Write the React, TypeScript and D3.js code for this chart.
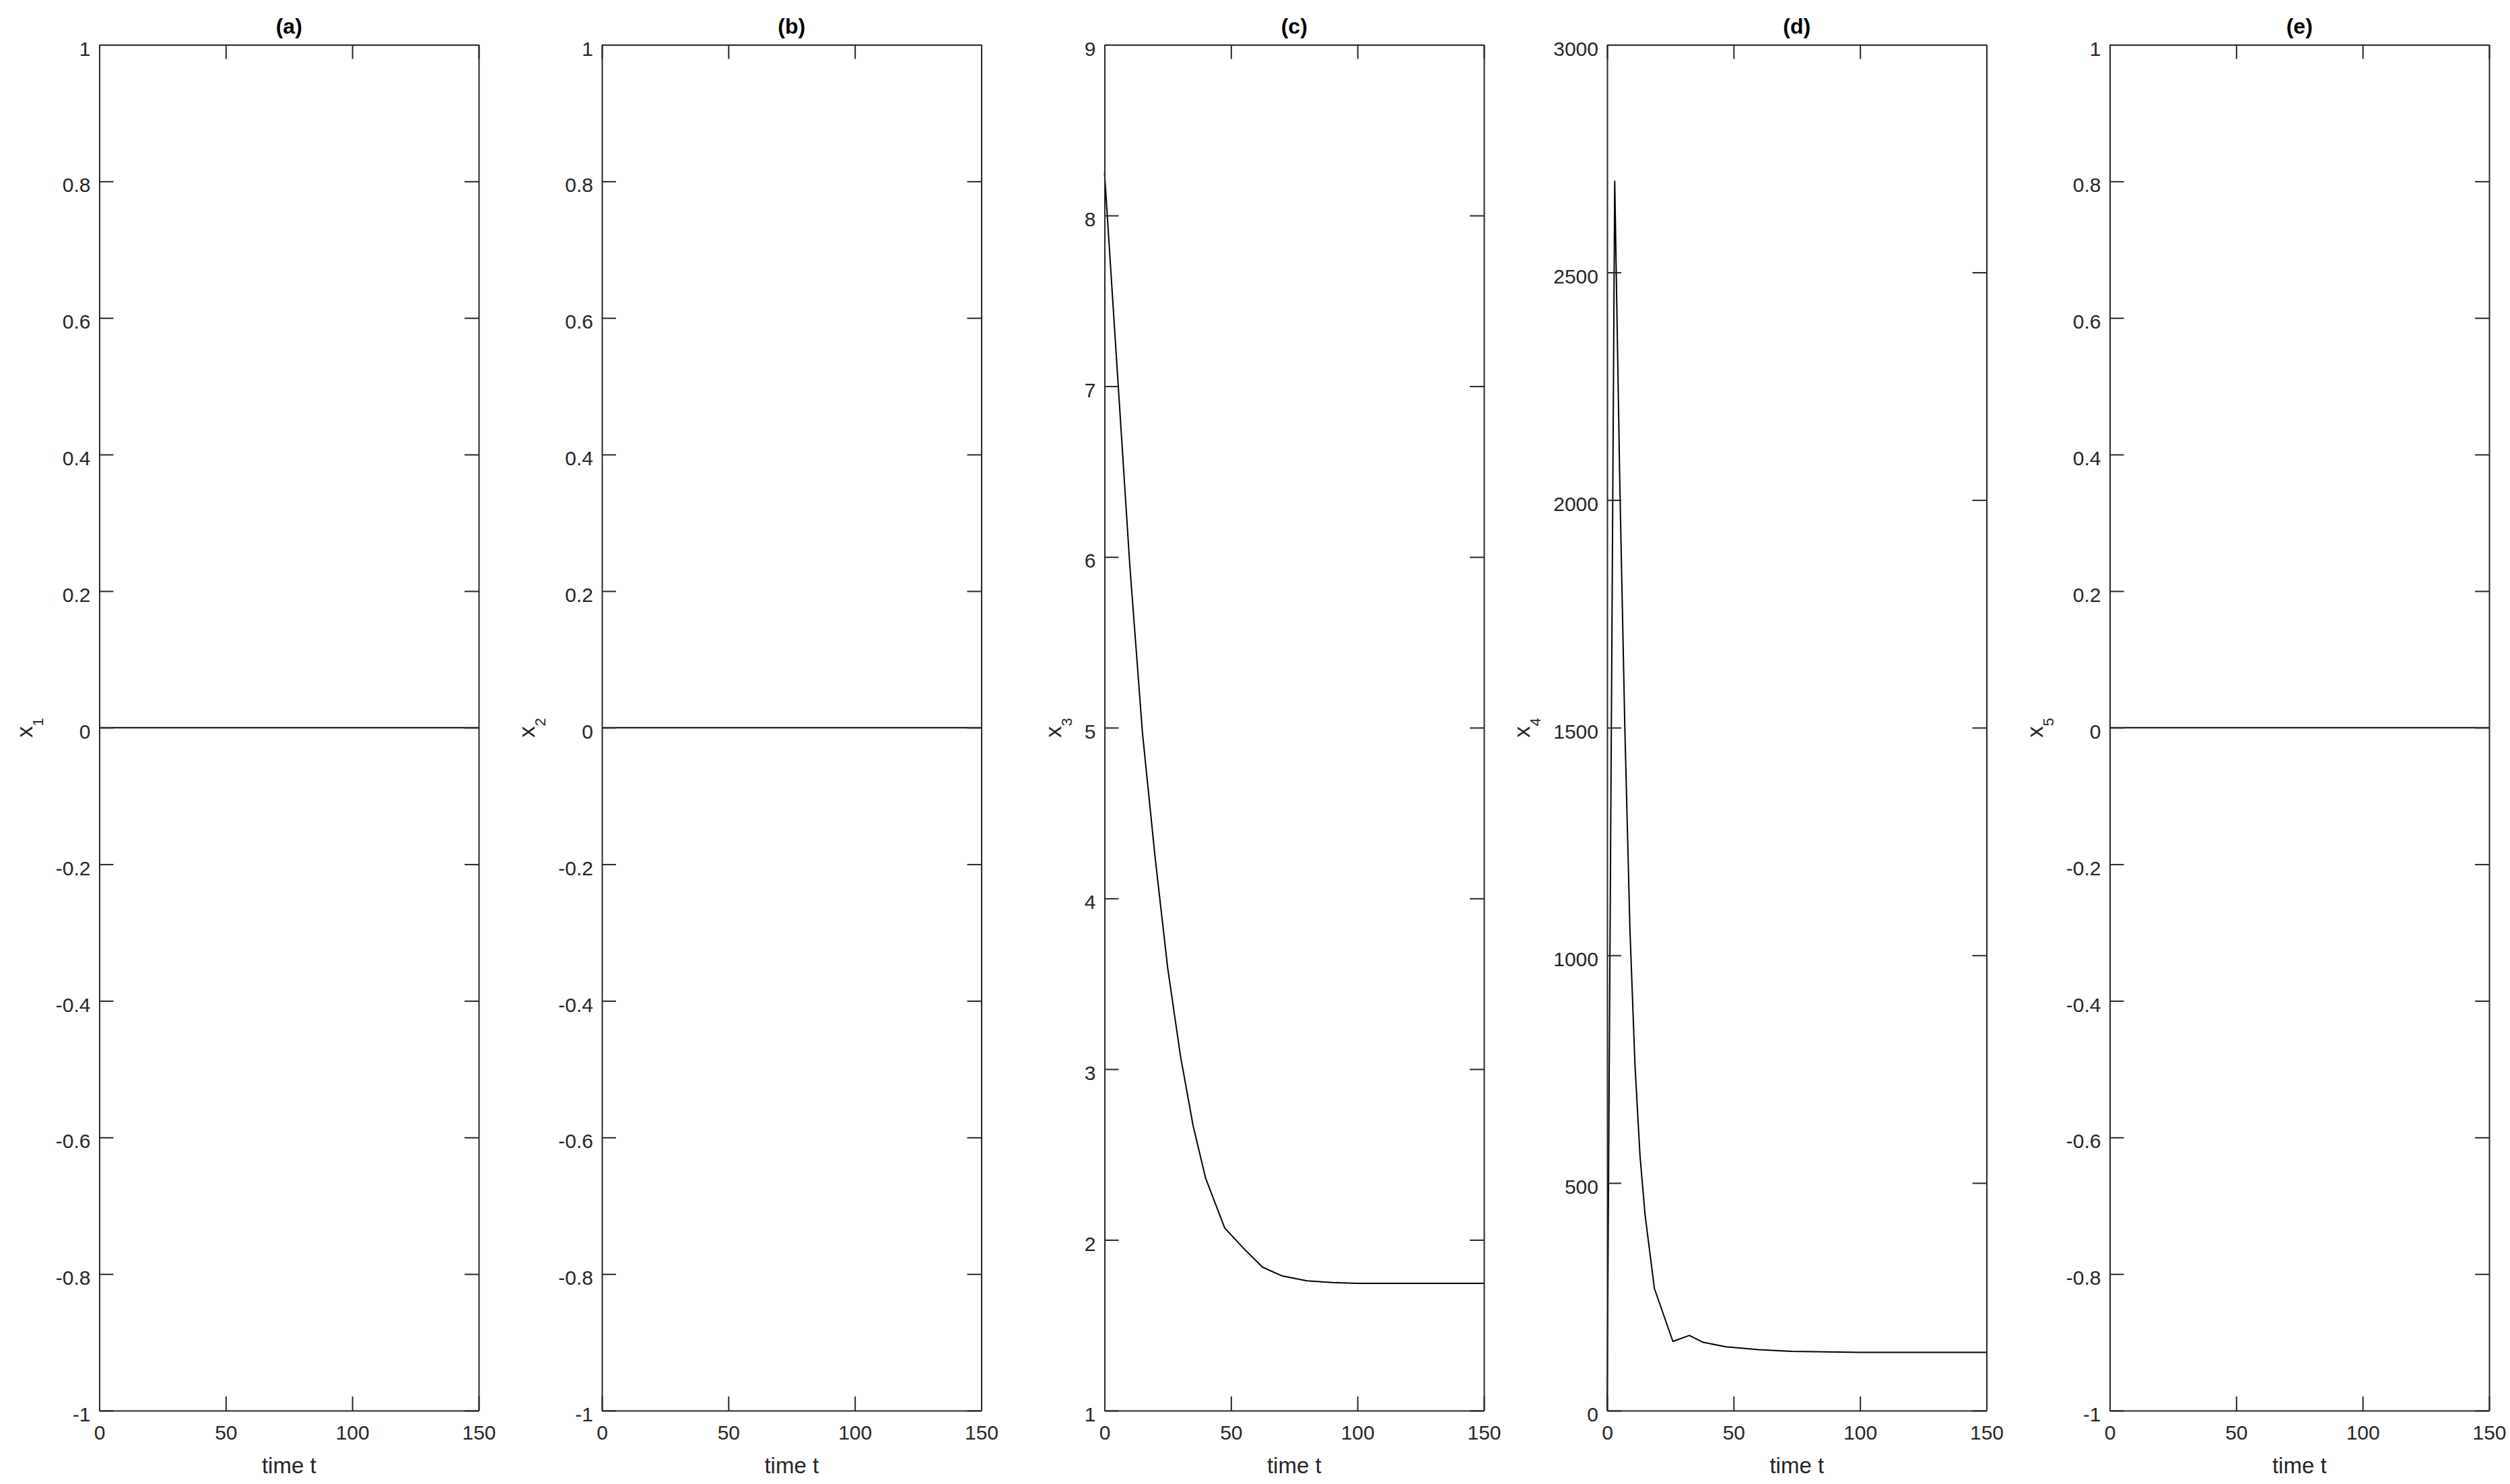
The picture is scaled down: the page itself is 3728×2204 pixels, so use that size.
import React, { useEffect, useRef } from 'react';
import * as d3 from 'd3';

const timeTicks = [0, 50, 100, 150];
const unitTicks = [-1, -0.8, -0.6, -0.4, -0.2, 0, 0.2, 0.4, 0.6, 0.8, 1];
const x3Ticks = [1, 2, 3, 4, 5, 6, 7, 8, 9];
const x4Ticks = [0, 500, 1000, 1500, 2000, 2500, 3000];

// x1, x2, x5 stay at zero the whole time
const flatTime = [0, 150];
const x1Values = [0, 0];
const x2Values = [0, 0];
const x5Values = [0, 0];

const x3Time = [0, 5, 10, 15, 20, 25, 30, 35, 40, 47.5, 55, 62.5, 70, 80, 90, 100, 150];
const x3Values = [8.25, 7.1, 5.95, 4.97, 4.24, 3.59, 3.08, 2.67, 2.36, 2.07, 1.95, 1.84, 1.79, 1.76, 1.75, 1.745, 1.745];

const x4Time = [0, 3, 5, 7, 9, 11, 13, 15, 18.7, 26, 32.5, 38, 47, 60, 73, 100, 150];
const x4Values = [0, 2700, 2040, 1500, 1060, 760, 560, 430, 268, 152, 165, 150, 140, 134, 130, 128, 128];

const panelTitles = ['(a)', '(b)', '(c)', '(d)', '(e)'];
const panelSubs = ['1', '2', '3', '4', '5'];

const W = 3728;
const H = 2204;
const font = "'Liberation Sans', Arial, Helvetica, sans-serif";
const ink = '#262626';

const App = () => {
  const ref = useRef<SVGSVGElement>(null);

  useEffect(() => {
    const svg = d3.select(ref.current);
    svg.selectAll('*').remove();

    const top = 66.5;
    const bottom = 2095;
    const panelW = 563.5;
    const step = 746.5;
    const tick = 21;

    const panels = [
      { t: flatTime, v: x1Values, domain: [-1, 1], ticks: unitTicks },
      { t: flatTime, v: x2Values, domain: [-1, 1], ticks: unitTicks },
      { t: x3Time, v: x3Values, domain: [1, 9], ticks: x3Ticks },
      { t: x4Time, v: x4Values, domain: [0, 3000], ticks: x4Ticks },
      { t: flatTime, v: x5Values, domain: [-1, 1], ticks: unitTicks },
    ];

    const styleAxis = (g) => {
      g.attr('font-size', 30).attr('font-family', font).attr('color', ink).attr('stroke-width', 2);
    };

    panels.forEach((p, i) => {
      const left = 147.5 + i * step;
      const right = left + panelW;
      const x = d3.scaleLinear().domain([0, 150]).range([left, right]);
      const y = d3.scaleLinear().domain(p.domain).range([bottom, top]);
      const g = svg.append('g');

      const line = d3.line<number>()
        .x((_, k) => x(p.t[k]))
        .y((d) => y(d));

      g.append('path')
        .datum(p.v)
        .attr('fill', 'none')
        .attr('stroke', '#000')
        .attr('stroke-width', 2)
        .attr('stroke-linejoin', 'round')
        .attr('d', line);

      g.append('g')
        .attr('transform', `translate(0,${bottom})`)
        .call(d3.axisBottom(x).tickValues(timeTicks).tickSizeInner(-tick).tickSizeOuter(0).tickPadding(22).tickFormat((d) => String(d)))
        .call(styleAxis);

      g.append('g')
        .attr('transform', `translate(0,${top})`)
        .call(d3.axisTop(x).tickValues(timeTicks).tickSizeInner(-tick).tickSizeOuter(0).tickFormat(() => ''))
        .call(styleAxis);

      const yAxisG = g.append('g')
        .attr('transform', `translate(${left},0)`)
        .call(d3.axisLeft(y).tickValues(p.ticks).tickSizeInner(-tick).tickSizeOuter(0).tickPadding(13).tickFormat((d) => String(d)))
        .call(styleAxis);
      yAxisG.selectAll('text').attr('dy', '0.52em');

      g.append('g')
        .attr('transform', `translate(${right},0)`)
        .call(d3.axisRight(y).tickValues(p.ticks).tickSizeInner(-tick).tickSizeOuter(0).tickFormat(() => ''))
        .call(styleAxis);

      // title
      g.append('text')
        .attr('x', (left + right) / 2)
        .attr('y', 50)
        .attr('text-anchor', 'middle')
        .attr('font-family', font)
        .attr('font-size', 32)
        .attr('font-weight', 'bold')
        .attr('fill', '#000')
        .text(panelTitles[i]);

      // x label
      g.append('text')
        .attr('x', (left + right) / 2)
        .attr('y', 2188)
        .attr('text-anchor', 'middle')
        .attr('font-family', font)
        .attr('font-size', 33)
        .attr('fill', ink)
        .text('time t');

      // y label, placed left of the widest tick label
      const bb = (yAxisG.node() as SVGGElement).getBBox();
      const labelX = left + bb.x - 35;
      const yl = g.append('text')
        .attr('transform', `translate(${labelX},${(top + bottom) / 2}) rotate(-90)`)
        .attr('text-anchor', 'middle')
        .attr('font-family', font)
        .attr('font-size', 34)
        .attr('fill', ink);
      yl.append('tspan').text('x');
      yl.append('tspan').attr('font-size', 22).attr('dy', 16).text(panelSubs[i]);
    });
  }, []);

  return (
    <svg
      ref={ref}
      width={W}
      height={H}
      style={{ position: 'absolute', left: 0, top: 0, background: '#fff' }}
    />
  );
};

export default App;
